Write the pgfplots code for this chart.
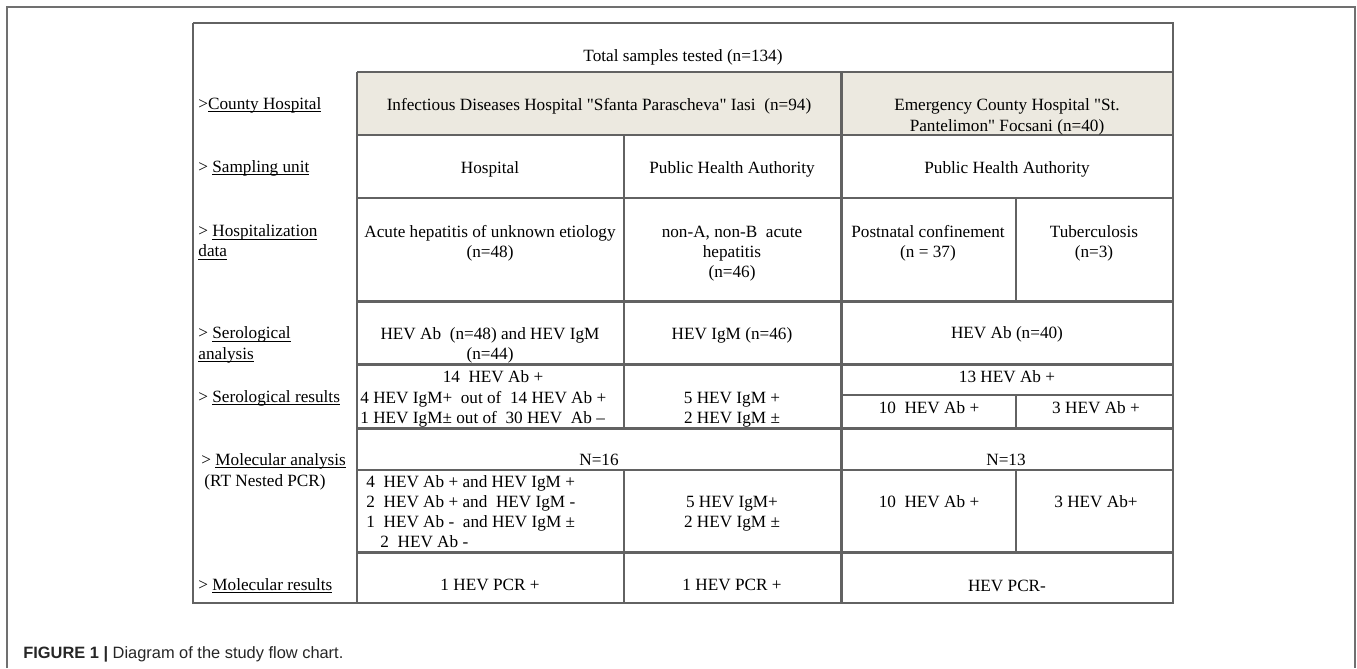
\documentclass[border=0pt]{standalone}
\usepackage{pgfplots}
\pgfplotsset{compat=1.18}
\usepackage{fontspec}
\setmainfont{Liberation Serif}[Ligatures=TeXOff]
\newfontfamily\capfont{Liberation Sans}
\definecolor{beige}{HTML}{ECE9E0}
\definecolor{ln}{HTML}{626262}
\definecolor{frm}{HTML}{707070}
\newcommand{\ul}[1]{\setbox0\hbox{#1}\rlap{\rule[-1.6pt]{\wd0}{0.5pt}}\box0}
\begin{document}
\begin{tikzpicture}[
  txt/.style={anchor=base, inner sep=0pt, text=black, font=\fontsize{8.6}{10}\selectfont},
  lab/.style={anchor=base west, inner sep=0pt, text=black, font=\fontsize{8.6}{10}\selectfont}]
\begin{axis}[x=0.5pt, y=0.5pt, y dir=reverse, xmin=0, xmax=1357, ymin=0, ymax=668,
  hide axis, clip=false, scale only axis,
  grd/.style={color=ln, line width=1pt},
  thk/.style={color=ln, line width=1.5pt}]
% background
\addplot[draw=none, fill=white] coordinates {(0,0) (1357,0) (1357,668) (0,668)};
% outer frame (open at bottom)
\addplot[color=frm, line width=1pt] coordinates {(7,668) (7,7) (1355,7) (1355,668)};
% beige header cells
\addplot[draw=none, fill=beige] coordinates {(357,72) (1173,72) (1173,135) (357,135)};
% table border
\addplot[grd] coordinates {(193,23) (1173,23) (1173,603) (193,603) (193,23)};
% horizontal lines
\addplot[grd] coordinates {(357,72) (1173,72)};
\addplot[grd] coordinates {(357,135) (1173,135)};
\addplot[grd] coordinates {(357,198) (1173,198)};
\addplot[thk] coordinates {(357,301) (1173,301)};
\addplot[thk] coordinates {(357,364) (1173,364)};
\addplot[thk] coordinates {(357,428) (1173,428)};
\addplot[grd] coordinates {(357,470) (1173,470)};
\addplot[thk] coordinates {(357,552) (1173,552)};
\addplot[grd] coordinates {(841,395) (1173,395)};
% vertical lines
\addplot[grd] coordinates {(357,72) (357,603)};
\addplot[thk] coordinates {(841,72) (841,603)};
\addplot[grd] coordinates {(624,135) (624,428)};
\addplot[grd] coordinates {(624,470) (624,603)};
\addplot[grd] coordinates {(1016,198) (1016,301)};
\addplot[grd] coordinates {(1016,395) (1016,428)};
\addplot[grd] coordinates {(1016,470) (1016,552)};
% title row
\node[txt] at (axis cs:683,61.5) {Total samples tested (n=134)};
% label column
\node[lab] at (axis cs:198,109) {>\ul{County Hospital}};
\node[lab] at (axis cs:198,172) {> \ul{Sampling unit}};
\node[lab] at (axis cs:198,236.5) {> \ul{Hospitalization}};
\node[lab] at (axis cs:198,256.5) {\ul{data}};
\node[lab] at (axis cs:198,338.5) {> \ul{Serological}};
\node[lab] at (axis cs:198,359) {\ul{analysis}};
\node[lab] at (axis cs:198,402) {> \ul{Serological results}};
\node[lab] at (axis cs:201,465) {> \ul{Molecular analysis}};
\node[lab] at (axis cs:204,486) {(RT Nested PCR)};
\node[lab] at (axis cs:198,590) {> \ul{Molecular results}};
% row 1
\node[txt] at (axis cs:599,110) {Infectious Diseases Hospital "Sfanta Parascheva" Iasi\ \ (n=94)};
\node[txt] at (axis cs:1007,111) {Emergency County Hospital "St.};
\node[txt] at (axis cs:1007,131) {Pantelimon" Focsani (n=40)};
% row 2
\node[txt] at (axis cs:490,173) {Hospital};
\node[txt] at (axis cs:732,173) {Public Health Authority};
\node[txt] at (axis cs:1007,173.5) {Public Health Authority};
% row 3
\node[txt] at (axis cs:490,237) {Acute hepatitis of unknown etiology};
\node[txt] at (axis cs:490,257) {(n=48)};
\node[txt] at (axis cs:732,237) {non-A, non-B\ \ acute};
\node[txt] at (axis cs:732,257) {hepatitis};
\node[txt] at (axis cs:732,277) {(n=46)};
\node[txt] at (axis cs:928,237) {Postnatal confinement};
\node[txt] at (axis cs:928,257) {(n = 37)};
\node[txt] at (axis cs:1094,237) {Tuberculosis};
\node[txt] at (axis cs:1094,257) {(n=3)};
% row 4
\node[txt] at (axis cs:490,339) {HEV Ab\ \ (n=48) and HEV IgM};
\node[txt] at (axis cs:490,359) {(n=44)};
\node[txt] at (axis cs:732,339) {HEV IgM (n=46)};
\node[txt] at (axis cs:1007,338.5) {HEV Ab (n=40)};
% row 5
\node[txt] at (axis cs:493,382) {14\ \ HEV Ab +};
\node[lab] at (axis cs:360,403) {4 HEV IgM+\ \ out of\ \ 14 HEV Ab +};
\node[lab] at (axis cs:360,423) {1 HEV IgM± out of\ \ 30 HEV\ \ Ab –};
\node[txt] at (axis cs:732,403) {5 HEV IgM +};
\node[txt] at (axis cs:732,423) {2 HEV IgM ±};
\node[txt] at (axis cs:1007,382) {13 HEV Ab +};
\node[txt] at (axis cs:929,413) {10\ \ HEV Ab +};
\node[txt] at (axis cs:1096,413) {3 HEV Ab +};
% row 6
\node[txt] at (axis cs:599,465) {N=16};
\node[txt] at (axis cs:1006,465) {N=13};
% row 7
\node[lab] at (axis cs:366,487) {4\ \ HEV Ab + and HEV IgM +};
\node[lab] at (axis cs:366,507) {2\ \ HEV Ab + and\ \ HEV IgM -};
\node[lab] at (axis cs:366,527) {1\ \ HEV Ab -\ \ and HEV IgM ±};
\node[lab] at (axis cs:380,547) {2\ \ HEV Ab -};
\node[txt] at (axis cs:732,507) {5 HEV IgM+};
\node[txt] at (axis cs:732,527) {2 HEV IgM ±};
\node[txt] at (axis cs:929,507) {10\ \ HEV Ab +};
\node[txt] at (axis cs:1096,507) {3 HEV Ab+};
% row 8
\node[txt] at (axis cs:490,590) {1 HEV PCR +};
\node[txt] at (axis cs:732,590) {1 HEV PCR +};
\node[txt] at (axis cs:1007,591) {HEV PCR-};
% caption
\node[anchor=base west, inner sep=0pt, text=black!85, font=\capfont\fontsize{8.2}{10}\selectfont]
  at (axis cs:23,658) {\textbf{FIGURE 1 |} Diagram of the study flow chart.};
\end{axis}
\end{tikzpicture}
\end{document}
